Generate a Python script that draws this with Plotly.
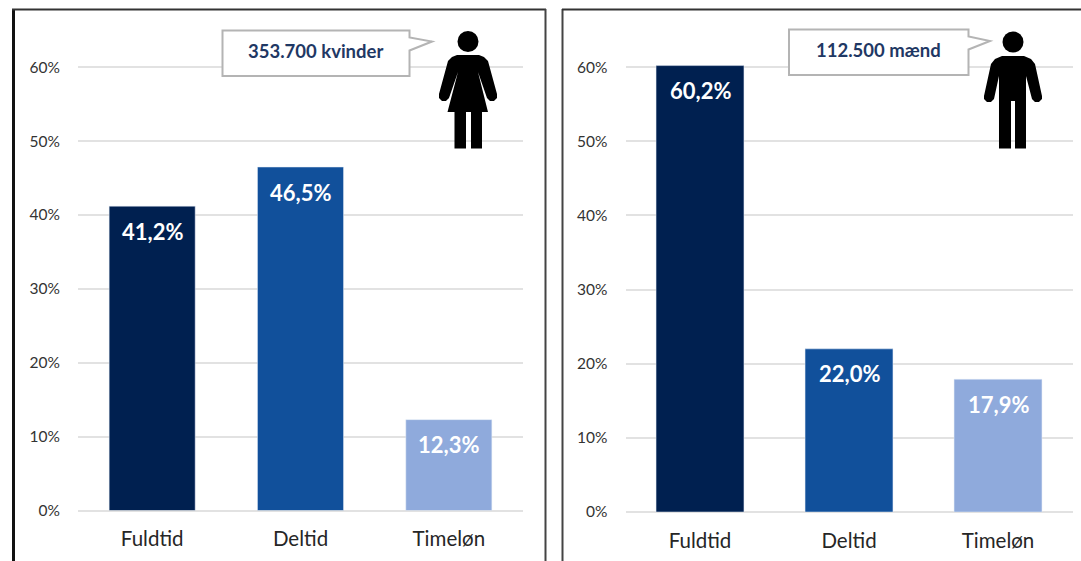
import plotly.graph_objects as go

W, H = 1081, 561
categories = ["Fuldtid", "Deltid", "Timeløn"]
women_values = [41.2, 46.5, 12.3]
men_values = [60.2, 22.0, 17.9]
women_labels = ["41,2%", "46,5%", "12,3%"]
men_labels = ["60,2%", "22,0%", "17,9%"]
tick_values = [0, 10, 20, 30, 40, 50, 60]
tick_labels = ["0%", "10%", "20%", "30%", "40%", "50%", "60%"]
bar_colors = ["#002050", "#11509B", "#8FAADC"]
FONT = "Lato"

def px(x): return x / W
def py(y): return 1 - y / H
def path(points):
    return "M " + " L ".join(f"{px(x):.5f},{py(y):.5f}" for x, y in points) + " Z"

fig = go.Figure()
fig.add_bar(x=categories, y=women_values, marker_color=bar_colors, width=0.58,
            xaxis="x", yaxis="y", showlegend=False)
fig.add_bar(x=categories, y=men_values, marker_color=bar_colors, width=0.59,
            xaxis="x2", yaxis="y2", showlegend=False)

annotations = []
for xr, yr, vals, labs in [("x", "y", women_values, women_labels), ("x2", "y2", men_values, men_labels)]:
    for c, v, l in zip(categories, vals, labs):
        annotations.append(dict(x=c, y=v, xref=xr, yref=yr, text=l, showarrow=False, yshift=-25,
                                font=dict(family=FONT, size=22, color="white", weight="bold")))

shapes = []
def line(x0, y0, x1, y1, color, width):
    shapes.append(dict(type="line", xref="paper", yref="paper", x0=px(x0), y0=py(y0), x1=px(x1), y1=py(y1),
                       line=dict(color=color, width=width), layer="above"))

# frames around the two panels
line(13.5, 9, 13.5, 561, "#111111", 3)
line(12, 9.5, 546, 9.5, "#333333", 2)
line(545.5, 9, 545.5, 561, "#444444", 2)
line(562.5, 9, 562.5, 561, "#444444", 2)
line(562, 9.5, 1081, 9.5, "#333333", 2)

def callout(x0, y0, x1, y1, tipx, tipy, text):
    pts = [(x0, y0), (x1, y0), (x1, y0 + 7), (tipx, tipy), (x1, y0 + 20), (x1, y1), (x0, y1)]
    shapes.append(dict(type="path", xref="paper", yref="paper", path=path(pts), fillcolor="white",
                       line=dict(color="#B4B4B4", width=2), layer="above"))
    annotations.append(dict(x=px((x0 + x1) / 2), y=py((y0 + y1) / 2 - 2), xref="paper", yref="paper", text=text,
                            xanchor="center", yanchor="middle", showarrow=False,
                            font=dict(family=FONT, size=18.5, color="#1F3864", weight="bold")))

callout(222.5, 30.5, 409.5, 76, 432, 41.5, "353.700 kvinder")
callout(789, 29.5, 968.5, 75, 990, 41, "112.500 mænd")

def head(cx, cy, r):
    shapes.append(dict(type="circle", xref="paper", yref="paper", x0=px(cx - r), x1=px(cx + r),
                       y0=py(cy + r), y1=py(cy - r), fillcolor="black", line_width=0, layer="above"))

# woman pictogram
head(468, 41.5, 10.5)
shapes.append(dict(type="path", xref="paper", yref="paper", fillcolor="black", line_width=0, layer="above",
    path=path([(457, 55), (479, 55), (484, 57), (488, 61), (497, 94), (497, 98), (494, 101), (490, 101), (487, 98),
               (478, 72), (488, 112), (482, 112), (482, 148.5), (471, 148.5), (471, 112), (466, 112),
               (466, 148.5), (454.5, 148.5), (454.5, 112), (447.5, 112), (458, 72), (449, 98), (446, 101),
               (442, 101), (439, 98), (439, 94), (448, 61), (452, 57)])))

# man pictogram
head(1013, 42, 10.5)
shapes.append(dict(type="path", xref="paper", yref="paper", fillcolor="black", line_width=0, layer="above",
    path=path([(1002, 56), (1024, 56), (1031, 59), (1035, 64), (1042, 96), (1042, 99), (1039, 102), (1035, 102),
               (1032, 99), (1026, 76), (1026, 148.5), (1015, 148.5), (1015, 101), (1011, 101), (1011, 148.5),
               (999, 148.5), (999, 76), (994, 99), (991, 102), (987, 102), (984, 99), (984, 96), (991, 64), (995, 59)])))

xcommon = dict(tickfont=dict(size=20.5, color="#262626"), ticks="", showline=False, showgrid=False,
               zeroline=False, automargin=False, ticklabelstandoff=14)
ycommon = dict(tickvals=tick_values, ticktext=tick_labels, tickfont=dict(size=15.5, color="#333333"),
               gridcolor="#E2E2E2", gridwidth=1.5, zeroline=True, zerolinecolor="#E2E2E2", zerolinewidth=2,
               showline=False, ticks="", automargin=False, ticklabelstandoff=17)

fig.update_layout(
    width=W, height=H, margin=dict(l=0, r=0, t=0, b=0), paper_bgcolor="white", plot_bgcolor="white",
    bargap=0.42, annotations=annotations, shapes=shapes, font=dict(family=FONT),
    xaxis=dict(domain=[px(78), px(523)], anchor="y", **xcommon),
    xaxis2=dict(domain=[px(625.5), px(1072.5)], anchor="y2", **xcommon),
    yaxis=dict(domain=[py(510.5), py(30)], anchor="x", range=[0, 65.05], **ycommon),
    yaxis2=dict(domain=[py(512), py(30)], anchor="x2", range=[0, 65], **ycommon),
)
fig.write_html("out.html", config=dict(displayModeBar=False),
               post_script="document.body.style.margin='0';document.body.style.overflow='hidden';")
